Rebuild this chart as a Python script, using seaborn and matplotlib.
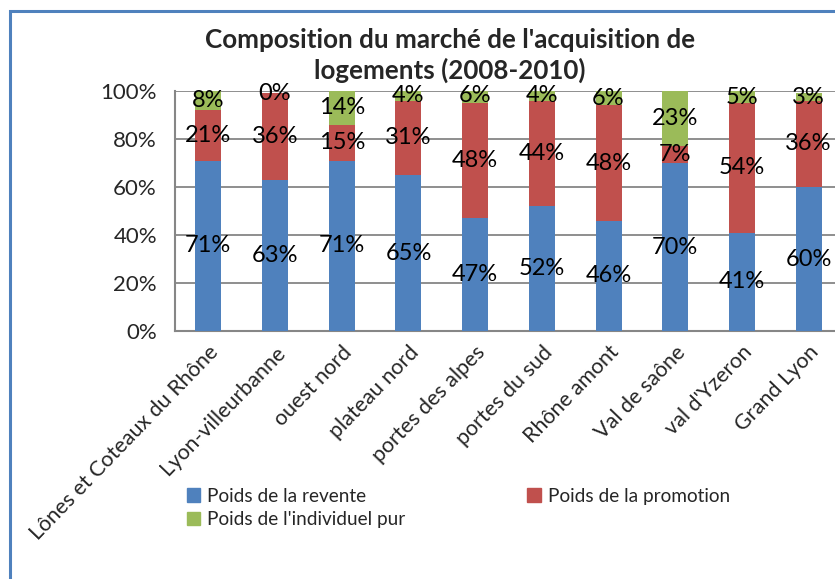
import numpy as np
import pandas as pd
import matplotlib
matplotlib.use("Agg")
import matplotlib.pyplot as plt
import seaborn as sns
from matplotlib.patches import Rectangle

# data
secteurs = ["Lônes et Coteaux du Rhône", "Lyon-villeurbanne", "ouest nord",
            "plateau nord", "portes des alpes", "portes du sud", "Rhône amont",
            "Val de saône", "val d'Yzeron", "Grand Lyon"]
revente = [71, 63, 71, 65, 47, 52, 46, 70, 41, 60]
promotion = [21, 36, 15, 31, 48, 44, 48, 7, 54, 36]
individuel = [8, 0, 14, 4, 6, 4, 6, 23, 5, 3]

series_names = ["Poids de la revente", "Poids de la promotion", "Poids de l'individuel pur"]
colors = ["#4f81bd", "#c0504d", "#9bbb59"]

sns.set_style("white")
plt.rcParams["font.family"] = ["Lato", "DejaVu Sans"]

df = pd.DataFrame({"secteur": secteurs, "revente": revente,
                   "promotion": promotion, "individuel": individuel})
df["cum1"] = df["revente"]
df["cum2"] = df["revente"] + df["promotion"]
df["cum3"] = (df["cum2"] + df["individuel"]).clip(upper=100)

fig = plt.figure(figsize=(8.35, 5.79), dpi=100)
ax = fig.add_axes([175 / 835, 1 - 331 / 579, 667 / 835, 240 / 579])

# draw from the top of the stack down so each layer covers the next
for col, colr in zip(["cum3", "cum2", "cum1"], colors[::-1]):
    sns.barplot(data=df, x="secteur", y=col, color=colr, width=0.39,
                saturation=1, linewidth=0, ax=ax, zorder=3)

# segment labels
for i in range(len(secteurs)):
    bottoms = [0, revente[i], revente[i] + promotion[i]]
    vals = [revente[i], promotion[i], individuel[i]]
    for b, v in zip(bottoms, vals):
        ax.text(i, min(b + v / 2, 99), f"{v}%", ha="center", va="center",
                fontsize=17, color="black", zorder=5)

ax.set_xlim(-0.5, 9.5)
ax.set_ylim(0, 100)
ax.set_yticks([0, 20, 40, 60, 80, 100])
ax.set_yticklabels([f"{v}%" for v in range(0, 101, 20)], fontsize=16)
ax.set_xlabel("")
ax.set_ylabel("")
ax.set_xticks(range(len(secteurs)))
ax.set_xticklabels(secteurs, rotation=46, ha="right", rotation_mode="anchor",
                   fontsize=15.5)
ax.tick_params(axis="x", length=0, pad=8)
ax.set_xticks(np.arange(-0.5, 10, 1), minor=True)
ax.tick_params(axis="x", which="minor", length=6, width=1.5, color="#868686",
               direction="out")
ax.tick_params(axis="y", length=10, width=1.5, color="#868686", direction="out",
               pad=3)
ax.yaxis.grid(True, color="#868686", linewidth=1.3, zorder=0)
ax.set_axisbelow(True)
for s in ["top", "right"]:
    ax.spines[s].set_visible(False)
for s in ["left", "bottom"]:
    ax.spines[s].set_color("#868686")
    ax.spines[s].set_linewidth(1.5)

fig.text(450 / 835, 1 - 40 / 579, "Composition du marché de l'acquisition de",
         ha="center", va="center", fontsize=18.7, fontweight="bold")
fig.text(450 / 835, 1 - 70 / 579, "logements (2008-2010)",
         ha="center", va="center", fontsize=18.7, fontweight="bold")

# legend fills column-wise, so order handles to read row by row
order = [0, 2, 1]
handles = [Rectangle((0, 0), 1, 1, color=colors[k]) for k in order]
labels = [series_names[k] for k in order]
fig.legend(handles, labels, loc="upper left",
           bbox_to_anchor=(177 / 835, 1 - 478 / 579), ncol=2, frameon=False,
           fontsize=13.7, handlelength=0.7, handleheight=0.7, handletextpad=0.4,
           columnspacing=6.4, labelspacing=0.35, borderpad=0)

# chart area border
fig.patches.append(Rectangle((9.5 / 835, -0.1), 1.2, 1.1 - 11 / 579,
                             transform=fig.transFigure, fill=False,
                             edgecolor="#4f81bd", linewidth=2.2))

fig.savefig("out.png", dpi=100)
